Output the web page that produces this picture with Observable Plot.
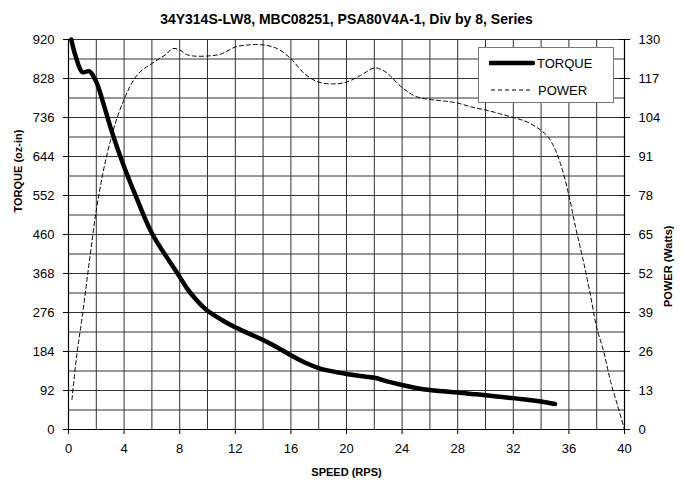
<!DOCTYPE html>
<html>
<head>
<meta charset="utf-8">
<script src="https://cdn.jsdelivr.net/npm/d3@7"></script>
<script src="https://cdn.jsdelivr.net/npm/@observablehq/plot@0.6"></script>
<style>
  html, body { margin: 0; padding: 0; background: #fff; }
  #wrap { position: relative; width: 682px; height: 485px; font-family: Arial, "Liberation Sans", sans-serif; }
  #legend { position: absolute; left: 478px; top: 47px; width: 136px; height: 56px; border: 1px solid #777; background: #fff; box-sizing: border-box; }
  #legend .row { position: absolute; left: 0; height: 20px; display: flex; align-items: center; font-size: 13px; }
  #legend svg { display: block; }
</style>
</head>
<body>
<div id="wrap"></div>
<script>
const title = "34Y314S-LW8, MBC08251, PSA80V4A-1, Div by 8, Series";
const xLabel = "SPEED (RPS)";
const yLabelLeft = "TORQUE (oz-in)";
const yLabelRight = "POWER (Watts)";

const torqueSpeed = [0.2, 0.5, 1.0, 1.5, 2.0, 2.5, 3.0, 3.5, 4.0, 4.5, 5.0, 5.5, 6.0, 6.5, 7.0, 7.5, 8.0, 8.5, 9.0, 9.5, 10, 11, 12, 13, 14, 15, 16, 17, 18, 19, 20, 21, 22, 23, 24, 25, 26, 27, 28, 29, 30, 31, 32, 33, 34, 35];
const torqueValues = [920, 882, 843, 845, 820, 770, 715, 665, 620, 578, 538, 498, 463, 435, 410, 385, 360, 334, 313, 295, 280, 259, 241, 226, 211, 194, 175, 158, 145, 137, 131, 126, 122, 113, 105, 98, 93, 90, 87, 84, 81, 77, 74, 70, 66, 60];

const powerSpeed = [0.25, 0.6, 1.0, 1.5, 2.0, 2.5, 3.0, 3.5, 4.0, 4.5, 5.0, 5.5, 6.0, 6.5, 7.0, 7.5, 8.0, 8.5, 9.0, 10, 11, 12, 13, 14, 15, 16, 17, 18, 19, 20, 21, 22, 22.5, 23, 24, 25, 26, 27, 28, 29, 30, 31, 32, 33, 34, 34.5, 35, 35.5, 36, 36.5, 37, 37.5, 38, 38.5, 39, 39.5, 40];
const powerValues = [10, 25, 38, 56, 73, 86, 96, 104, 110, 115, 118.5, 120.5, 122, 123.5, 125, 127, 126.5, 125, 124.5, 124.5, 125.2, 127.5, 128.2, 128.2, 127, 123.6, 118.5, 115.8, 115.2, 115.8, 118, 120.5, 120, 118.5, 114, 111, 110, 109.5, 108.8, 107.5, 106.5, 105.3, 104, 102.5, 99.7, 97.5, 93.5, 87, 78, 67, 57, 46, 34, 26, 16, 8, 0];

const speedTicks = [0, 4, 8, 12, 16, 20, 24, 28, 32, 36, 40];
const torqueTicks = [0, 92, 184, 276, 368, 460, 552, 644, 736, 828, 920];
const powerTicks = [0, 13, 26, 39, 52, 65, 78, 91, 104, 117, 130];
const legendLabels = ["TORQUE", "POWER"];

const torqueMax = torqueTicks[torqueTicks.length - 1];
const powerMax = powerTicks[powerTicks.length - 1];

const torqueData = torqueSpeed.map((s, i) => ({s, v: torqueValues[i]}));
const powerData = powerSpeed.map((s, i) => ({s, v: powerValues[i] * torqueMax / powerMax}));

const W = 682, H = 485;
const mL = 68, mR = 58, mT = 39, mB = 56;

const chart = Plot.plot({
  width: W, height: H,
  marginLeft: mL, marginRight: mR, marginTop: mT, marginBottom: mB,
  style: {fontFamily: "Arial, 'Liberation Sans', sans-serif", fontSize: "13px", color: "#000", background: "#fff"},
  x: {domain: [0, 40]},
  y: {domain: [0, torqueMax]},
  marks: [
    Plot.gridX(d3.range(0, 41, 2), {stroke: "#333", strokeOpacity: 1, strokeWidth: 1}),
    Plot.gridY(d3.range(0, torqueMax + 1, torqueMax / 20), {stroke: "#333", strokeOpacity: 1, strokeWidth: 1}),
    Plot.ruleX([0, 40], {stroke: "#000", strokeWidth: 1.2}),
    Plot.ruleY([0], {stroke: "#000", strokeWidth: 1.2}),
    Plot.axisX({ticks: speedTicks, tickSize: 5, tickPadding: 9, label: null, fontSize: 13}),
    Plot.axisY({ticks: torqueTicks, anchor: "left", tickSize: 5, tickPadding: 9, label: null, fontSize: 13}),
    Plot.axisY({ticks: torqueTicks, anchor: "right", tickSize: 5, tickPadding: 9, label: null, fontSize: 13,
      tickFormat: (d) => powerTicks[torqueTicks.indexOf(d)]}),
    Plot.tickY(torqueTicks, {stroke: "#000", insetLeft: (W - mL - mR) - 5}),
    Plot.line(powerData, {x: "s", y: "v", curve: "catmull-rom", stroke: "#000", strokeWidth: 1, strokeDasharray: "4,3"}),
    Plot.line(torqueData, {x: "s", y: "v", curve: "catmull-rom", stroke: "#000", strokeWidth: 4.5, strokeLinecap: "round"}),
    Plot.text([title], {frameAnchor: "top", dy: -25, fontWeight: "bold", fontSize: 14}),
    Plot.text([xLabel], {frameAnchor: "bottom", dy: 46, fontWeight: "bold", fontSize: 11}),
    Plot.text([yLabelLeft], {frameAnchor: "left", dx: -50, dy: -22, rotate: -90, fontWeight: "bold", fontSize: 11}),
    Plot.text([yLabelRight], {frameAnchor: "right", dx: 44, dy: -9, rotate: -90, fontWeight: "bold", fontSize: 11})
  ]
});

const wrap = document.getElementById("wrap");
wrap.appendChild(chart);

const legend = document.createElement("div");
legend.id = "legend";
legend.innerHTML = `
  <div class="row" style="top:5px;left:10px"><svg width="46" height="8"><line x1="1" y1="4" x2="44" y2="4" stroke="#000" stroke-width="4.5" stroke-linecap="round"/></svg><span style="margin-left:2px">${legendLabels[0]}</span></div>
  <div class="row" style="top:32px;left:12px"><svg width="44" height="8"><line x1="0" y1="4" x2="42" y2="4" stroke="#000" stroke-width="1" stroke-dasharray="4,3"/></svg><span style="margin-left:3px">${legendLabels[1]}</span></div>`;
wrap.appendChild(legend);
</script>
</body>
</html>
